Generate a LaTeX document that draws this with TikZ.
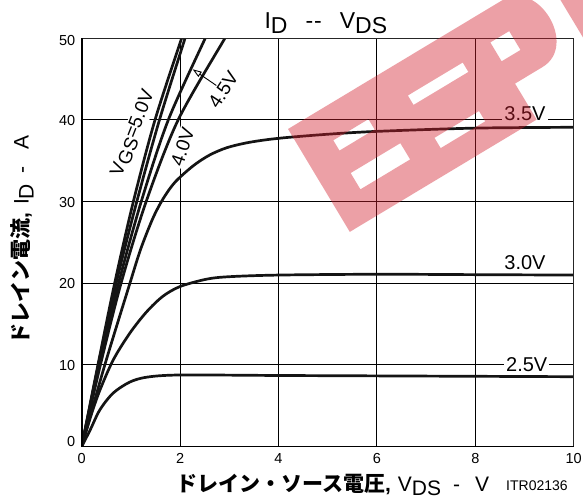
\documentclass[tikz,border=0pt]{standalone}
\usepackage{fontspec}
\setmainfont{Liberation Sans}
\newfontfamily\jp{Noto Sans CJK JP}
\usetikzlibrary{arrows.meta}
\definecolor{wmred}{RGB}{210,30,45}
\begin{document}
\begin{tikzpicture}[x=1pt,y=-1pt,
  gridline/.style={line width=1.1pt, black},
  curve/.style={line width=2.7pt, black!92, line join=round},
  ticklab/.style={font=\fontsize{14.5}{14.5}\selectfont, inner sep=0pt},
  vlab/.style={font=\fontsize{20}{20}\selectfont, inner sep=2pt, fill=white},
  rlab/.style={font=\fontsize{19}{19}\selectfont, inner sep=1.5pt, fill=white},
  arr/.style={line width=0.9pt, -{Triangle[open,length=9pt,width=6pt]}}]
\useasboundingbox (0,0) rectangle (583,499);
\fill[white] (0,0) rectangle (583,499);

% grid (data coordinates)
\begin{scope}[shift={(81.7,446.5)}, x=49.2pt, y=8.164pt]
  \foreach \gx in {2,4,6,8} \draw[gridline] (\gx,0) -- (\gx,50);
  \foreach \gy in {10,20,30,40} \draw[gridline] (0,\gy) -- (10,\gy);
\end{scope}

% curve labels
\node[vlab, anchor=base] (l35) at (525,120.5) {3.5V};
\node[vlab, anchor=base] (l30) at (525,269.7) {3.0V};
\node[vlab, anchor=base] (l25) at (526.7,371.2) {2.5V};
\node[rlab, rotate=68.6] (l50) at (133.3,133.3) {V\raisebox{-3.5pt}{GS}=5.0V};
\node[rlab, rotate=71.6] (l40) at (182.5,147) {4.0V};
\node[rlab, rotate=57] (l45) at (223.3,90) {4.5V};

% curves
\begin{scope}[shift={(81.7,446.5)}, x=49.2pt, y=8.164pt]
  \clip (0,0) rectangle (10,50);
  \draw[curve] plot[smooth] coordinates {(0,0) (0.33,10) (0.67,20) (1.05,30) (1.49,40) (2.03,50) (2.05,50.4)};
  \draw[curve] plot[smooth] coordinates {(0,0) (0.34,10) (0.70,20) (1.12,30) (1.58,40) (2.10,50) (2.12,50.4)};
  \draw[curve] plot[smooth] coordinates {(0,0) (0.36,10) (0.75,20) (1.21,30) (1.76,40) (2.51,50) (2.54,50.4)};
  \draw[curve] plot[smooth] coordinates {(0,0) (0.38,10) (0.80,20) (1.31,30) (1.96,40) (2.91,50) (2.95,50.4)};
  \draw[curve] plot[smooth] coordinates {(0,0) (0.47,10) (0.98,20) (1.2,24.2) (1.45,28.0) (1.66,30.4) (1.9,32.4) (2.27,34.4) (2.6,35.7) (2.95,36.6) (3.4,37.25) (4,37.75) (5,38.25) (6,38.6) (8,39.0) (10,39.1)};
  \draw[curve] plot[smooth] coordinates {(0,0) (0.2,4.0) (0.37,6.9) (0.64,10.6) (0.98,13.9) (1.32,16.5) (1.65,18.4) (2.0,19.6) (2.54,20.5) (3,20.8) (4,21.0) (6,21.1) (8,21.05) (10,21.0)};
  \draw[curve] plot[smooth] coordinates {(0,0) (0.17,2.0) (0.37,4.5) (0.64,6.55) (0.98,7.9) (1.33,8.5) (2.0,8.76) (4,8.7) (6,8.65) (8,8.6) (10,8.55)};
\end{scope}

% frame
\begin{scope}[shift={(81.7,446.5)}, x=49.2pt, y=8.164pt]
  \draw[line width=1.3pt, black!85] (0,50) -- (10,50) -- (10,0);
  \draw[line width=1.7pt] (0,50) -- (0,0) -- (10,0);
\end{scope}

% 4.5V arrow
\coordinate (tip45) at (192.7,69.3);
\draw[arr] (l45.north) -- (tip45);

% tick labels
\foreach \t/\py in {50/40,40/120,30/202,20/283.3,10/365,0/441.7}
  \node[ticklab, anchor=base east] (yt\t) at (75.5,\py+5.2) {\t};
\foreach \t/\px in {0/81.7,2/180.1,4/278.5,6/376.9,8/475.3,10/573.7}
  \node[ticklab, anchor=base] (xt\t) at (\px,463.5) {\t};

% title
\node[anchor=base west, inner sep=0pt, font=\fontsize{23}{23}\selectfont] (title) at (264.3,28.3)
  {I\raisebox{-5.5pt}{D}\hspace{18pt}-\hspace{1pt}-\hspace{18pt}V\raisebox{-5.5pt}{DS}};

% axis labels
\node[anchor=base west, inner sep=0pt, font=\fontsize{21}{21}\selectfont] (xlab) at (176,491)
  {{\jp\bfseries ドレイン・ソース電圧}{\bfseries ,}\hspace{7pt}V\raisebox{-4.5pt}{DS}\hspace{12pt}-\hspace{15pt}V};
\node[anchor=base west, rotate=90, inner sep=0pt, font=\fontsize{21}{21}\selectfont] (ylab) at (28.5,345)
  {{\jp\bfseries ドレイン電流}{\bfseries ,}\hspace{8pt}I\raisebox{-5pt}{D}\hspace{10.5pt}-\hspace{16.5pt}A};
\node[anchor=base west, inner sep=0pt, font=\fontsize{14}{14}\selectfont] (itr) at (506,490) {ITR02136};

% watermark
\begin{scope}
  \clip (0,0) rectangle (583,499);
  \begin{scope}[shift={(288,129)}, rotate=31]
    \fill[wmred, fill opacity=0.42, even odd rule]
      (0,0) -- (250,0) .. controls (292,0) and (292,78) .. (250,78) -- (218,78) -- (218,120) -- (0,120) -- cycle
      (33,33) rectangle (74,45)
      (31,70) rectangle (89,89)
      (120,33) rectangle (184,44)
      (121,83) rectangle (173,95)
      (218,30) rectangle (240,52)
      (300,0) rectangle (420,120);
  \end{scope}
\end{scope}
\end{tikzpicture}
\end{document}
